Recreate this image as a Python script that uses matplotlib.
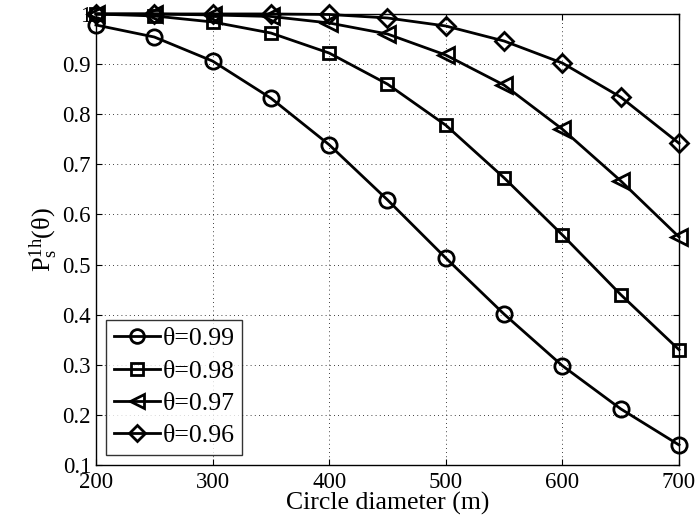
import matplotlib
matplotlib.use("Agg")
import matplotlib.pyplot as plt

plt.rcParams['font.family'] = ['Liberation Serif', 'DejaVu Serif']
plt.rcParams['mathtext.fontset'] = 'custom'
plt.rcParams['mathtext.rm'] = 'Liberation Serif'
plt.rcParams['mathtext.it'] = 'Liberation Serif:italic'

diameters = [200, 250, 300, 350, 400, 450, 500, 550, 600, 650, 700]
p099 = [0.978, 0.954, 0.906, 0.832, 0.739, 0.629, 0.513, 0.401, 0.298, 0.212, 0.140]
p098 = [1.000, 0.996, 0.984, 0.962, 0.922, 0.860, 0.778, 0.673, 0.559, 0.440, 0.330]
p097 = [1.000, 1.000, 0.998, 0.995, 0.982, 0.960, 0.918, 0.858, 0.770, 0.667, 0.555]
p096 = [1.000, 1.000, 1.000, 1.000, 0.999, 0.992, 0.976, 0.946, 0.902, 0.834, 0.742]
labels = ['θ=0.99', 'θ=0.98', 'θ=0.97', 'θ=0.96']
markers = ['o', 's', '<', 'D']
yticks = [0.1, 0.2, 0.3, 0.4, 0.5, 0.6, 0.7, 0.8, 0.9, 1.0]
yticklabels = ['0.1', '0.2', '0.3', '0.4', '0.5', '0.6', '0.7', '0.8', '0.9', '1']
xticks = [200, 300, 400, 500, 600, 700]

fig = plt.figure(figsize=(6.97, 5.17), dpi=100)
ax = fig.add_axes([0.1377, 0.1006, 0.8365, 0.8724])

for ys, m, lab in zip([p099, p098, p097, p096], markers, labels):
    ms = {'o': 11, 's': 9, '<': 11, 'D': 9}[m]
    ax.plot(diameters, ys, color='black', linewidth=2, marker=m, markersize=ms,
            markerfacecolor='none', markeredgecolor='black', markeredgewidth=2,
            label=lab, clip_on=False)

ax.set_xlim(200, 700)
ax.set_ylim(0.1, 1.0)
ax.set_xticks(xticks)
ax.set_yticks(yticks)
ax.set_yticklabels(yticklabels)
ax.tick_params(direction='in', labelsize=16.5, length=4, top=True, right=True)
ax.tick_params(axis='x', pad=5)
ax.grid(True, linestyle=(0, (1, 4)), color='black', linewidth=0.6)
for s in ax.spines.values():
    s.set_linewidth(1.0)

ax.set_xlabel('Circle diameter (m)', fontsize=18.5, labelpad=-1)
ax.set_ylabel(r'$\mathrm{P}_{\mathrm{s}}^{\mathrm{1h}}$(θ)', fontsize=19, labelpad=2)

leg = ax.legend(loc='lower left', fontsize=18.5, frameon=True, fancybox=False,
                edgecolor='black', handlelength=1.8, borderaxespad=0.4,
                handletextpad=0.1, labelspacing=0.36, borderpad=0.3,
                markerscale=0.9)
leg.get_frame().set_linewidth(1.0)

fig.savefig('out.png', dpi=100)
